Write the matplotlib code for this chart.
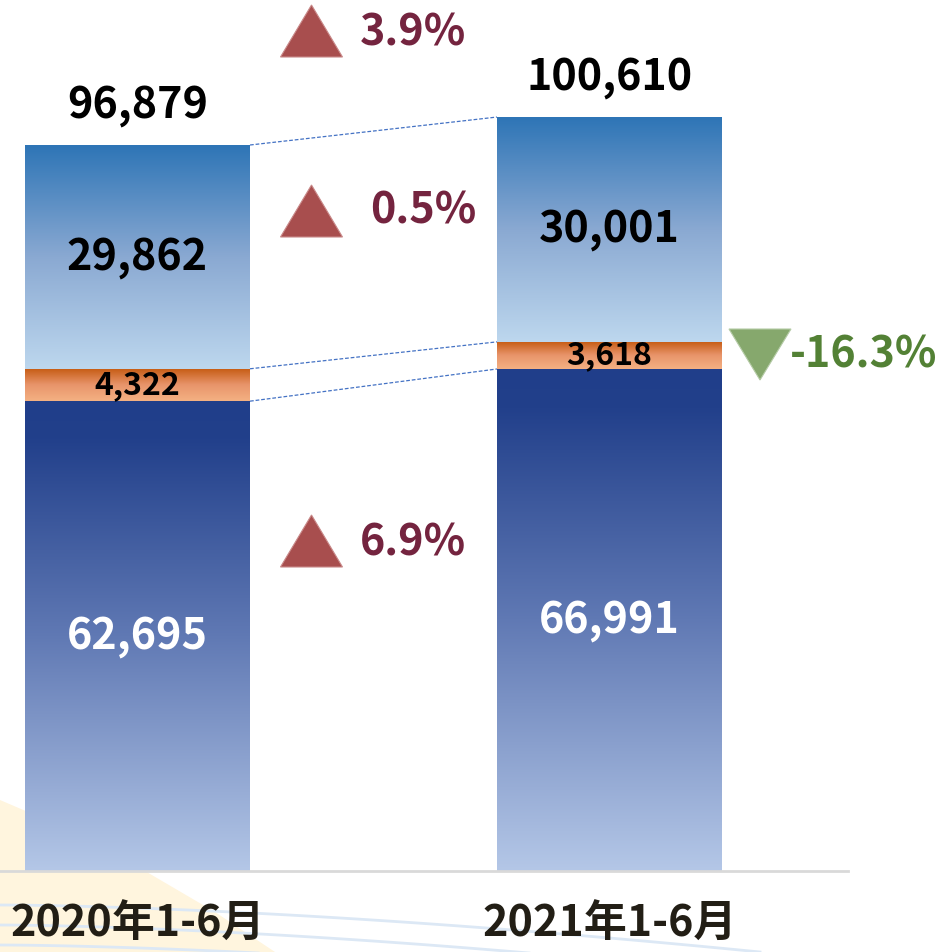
import numpy as np
import matplotlib
matplotlib.use("Agg")
import matplotlib.pyplot as plt
from matplotlib.colors import LinearSegmentedColormap
from matplotlib.patches import Polygon

# Data
categories = ['2020年1-6月', '2021年1-6月']
bottom_vals = [62695, 66991]   # 底部 (深蓝)
middle_vals = [4322, 3618]     # 中间 (橙色)
top_vals = [29862, 30001]      # 顶部 (浅蓝)
totals = [a + b + c for a, b, c in zip(bottom_vals, middle_vals, top_vals)]


def pct(a, b):
    return '{:.1f}%'.format((b / a - 1) * 100)


plt.rcParams['font.family'] = ['Noto Sans CJK SC', 'DejaVu Sans']

fig = plt.figure(figsize=(9.36, 9.52), dpi=100)

# faint background decoration
bg = fig.add_axes([0, 0, 1, 1], zorder=0)
bg.set_xlim(0, 936)
bg.set_ylim(952, 0)
bg.axis('off')
bg.add_patch(Polygon([(0, 800), (70, 830), (145, 871), (215, 912), (275, 952), (0, 952)],
                     closed=True, facecolor='#FFF5DE', edgecolor='none'))
t = np.linspace(0, 1, 100)
for y0, y1 in [(905, 952), (925, 975), (945, 990)]:
    bg.plot(t * 760, y0 + (y1 - y0) * t ** 1.6, color='#DCE8F5', lw=2)

ax = fig.add_axes([0, 81 / 952, 848 / 936, 871 / 952], zorder=1)
ax.patch.set_alpha(0)

x = np.arange(len(categories))
w = 225 / 472
ymax = 871 * totals[0] / 726

cmaps = {
    'bottom': LinearSegmentedColormap.from_list(
        'b', [(0, '#B4C7E7'), (0.5, '#6079B4'), (0.92, '#22408B'), (1, '#203E8A')]),
    'middle': LinearSegmentedColormap.from_list('m', ['#F4B183', '#E8946A', '#C55A11']),
    'top': LinearSegmentedColormap.from_list('t', ['#BDD7EE', '#8AA9D2', '#2E75B6']),
}

mid_bottom = bottom_vals
top_bottom = [a + b for a, b in zip(bottom_vals, middle_vals)]
layers = [('bottom', bottom_vals, [0, 0]),
          ('middle', middle_vals, mid_bottom),
          ('top', top_vals, top_bottom)]

grad = np.linspace(0, 1, 256).reshape(-1, 1)
for name, vals, base in layers:
    bars = ax.bar(x, vals, bottom=base, width=w, color='none', edgecolor='none')
    for b in bars:
        x0, y0 = b.get_x(), b.get_y()
        im = ax.imshow(grad, cmap=cmaps[name], origin='lower', aspect='auto',
                       extent=[x0, x0 + b.get_width(), y0, y0 + b.get_height()],
                       interpolation='bicubic', zorder=2)
        im.set_clip_path(b)

# dashed connectors
for levels in [totals, top_bottom, mid_bottom]:
    ax.plot([x[0] + w / 2, x[1] - w / 2], [levels[0], levels[1]],
            linestyle=(0, (3, 1.5)), color='#4472C4', lw=0.9, zorder=3)

ax.set_xlim(-137.5 / 472, (848 - 137.5) / 472)
ax.set_ylim(0, ymax)

# labels
for i in range(len(categories)):
    ax.text(x[i], bottom_vals[i] / 2, '{:,}'.format(bottom_vals[i]), ha='center', va='center',
            fontsize=31, fontweight='bold', color='white', zorder=4)
    ax.text(x[i], mid_bottom[i] + middle_vals[i] / 2, '{:,}'.format(middle_vals[i]), ha='center',
            va='center', fontsize=23, fontweight='bold', color='black', zorder=4)
    ax.text(x[i], top_bottom[i] + top_vals[i] / 2, '{:,}'.format(top_vals[i]), ha='center',
            va='center', fontsize=31, fontweight='bold', color='black', zorder=4)
    ax.annotate('{:,}'.format(totals[i]), (x[i], totals[i]), xytext=(0, 29),
                textcoords='offset points', ha='center', va='center',
                fontsize=31, fontweight='bold', color='black', annotation_clip=False)

for s in ['top', 'right', 'left']:
    ax.spines[s].set_visible(False)
ax.spines['bottom'].set_color('#D9D9D9')
ax.spines['bottom'].set_linewidth(2)
ax.set_yticks([])
ax.set_xticks(x)
ax.set_xticklabels(categories, fontsize=31, fontweight='bold', color='#221E15')
ax.tick_params(axis='x', length=0, pad=22)

# change markers
ov = fig.add_axes([0, 0, 1, 1], zorder=2)
ov.set_xlim(0, 936)
ov.set_ylim(952, 0)
ov.axis('off')

red_tri = '#A84E4E'
red_txt = '#74243F'
ups = [((311.5, 5, 57), (360, 32), pct(totals[0], totals[1])),
       ((311.5, 185, 237), (370, 211), pct(top_vals[0], top_vals[1])),
       ((311.5, 515, 567), (360, 542), pct(bottom_vals[0], bottom_vals[1]))]
for (cx, ytop, ybot), (tx, ty), s in ups:
    ov.add_patch(Polygon([(cx - 31, ybot), (cx + 31, ybot), (cx, ytop)], closed=True,
                         facecolor=red_tri, edgecolor='#C98A8A', lw=0.8))
    ov.text(tx, ty, s, ha='left', va='center', fontsize=31, fontweight='bold', color=red_txt)

ov.add_patch(Polygon([(729, 329), (791, 329), (760, 380)], closed=True,
                     facecolor='#86A86D', edgecolor='#B5CBA6', lw=0.8))
ov.text(790, 354, pct(middle_vals[0], middle_vals[1]), ha='left', va='center',
        fontsize=31, fontweight='bold', color='#538135')

fig.savefig('out.png', dpi=100)
